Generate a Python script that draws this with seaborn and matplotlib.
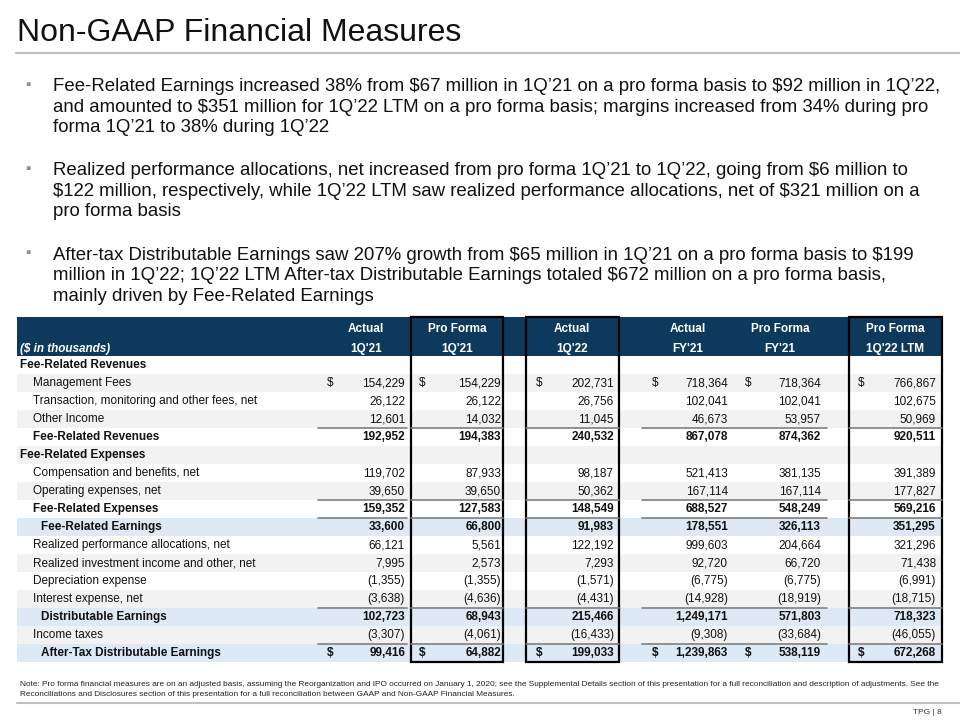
import matplotlib
matplotlib.use("Agg")
import matplotlib.pyplot as plt
import seaborn as sns

# Data
row_labels = ["Fee-Related Revenues", "Management Fees",
              "Transaction, monitoring and other fees, net", "Other Income",
              "Fee-Related Revenues", "Fee-Related Expenses",
              "Compensation and benefits, net", "Operating expenses, net",
              "Fee-Related Expenses", "Fee-Related Earnings",
              "Realized performance allocations, net",
              "Realized investment income and other, net",
              "Depreciation expense", "Interest expense, net",
              "Distributable Earnings", "Income taxes",
              "After-Tax Distributable Earnings"]
row_kind = ["section", "item", "item", "item", "sub", "section", "item", "item",
            "sub", "total", "item", "item", "item", "item", "total", "item", "total"]
dollar_rows = [1, 16]

col_top = ["Actual", "Pro Forma", "Actual", "Actual", "Pro Forma", "Pro Forma"]
col_bottom = ["1Q'21", "1Q'21", "1Q'22", "FY'21", "FY'21", "1Q'22 LTM"]

actual_1q21 = [None, 154229, 26122, 12601, 192952, None, 119702, 39650, 159352,
               33600, 66121, 7995, -1355, -3638, 102723, -3307, 99416]
proforma_1q21 = [None, 154229, 26122, 14032, 194383, None, 87933, 39650, 127583,
                 66800, 5561, 2573, -1355, -4636, 68943, -4061, 64882]
actual_1q22 = [None, 202731, 26756, 11045, 240532, None, 98187, 50362, 148549,
               91983, 122192, 7293, -1571, -4431, 215466, -16433, 199033]
actual_fy21 = [None, 718364, 102041, 46673, 867078, None, 521413, 167114, 688527,
               178551, 999603, 92720, -6775, -14928, 1249171, -9308, 1239863]
proforma_fy21 = [None, 718364, 102041, 53957, 874362, None, 381135, 167114, 548249,
                 326113, 204664, 66720, -6775, -18919, 571803, -33684, 538119]
proforma_ltm = [None, 766867, 102675, 50969, 920511, None, 391389, 177827, 569216,
                351295, 321296, 71438, -6991, -18715, 718323, -46055, 672268]
columns = [actual_1q21, proforma_1q21, actual_1q22, actual_fy21, proforma_fy21, proforma_ltm]

title = "Non-GAAP Financial Measures"
bullets = [
    ["Fee-Related Earnings increased 38% from $67 million in 1Q\u201921 on a pro forma basis to $92 million in 1Q\u201922,",
     "and amounted to $351 million for 1Q\u201922 LTM on a pro forma basis; margins increased from 34% during pro",
     "forma 1Q\u201921 to 38% during 1Q\u201922"],
    ["Realized performance allocations, net increased from pro forma 1Q\u201921 to 1Q\u201922, going from $6 million to",
     "$122 million, respectively, while 1Q\u201922 LTM saw realized performance allocations, net of $321 million on a",
     "pro forma basis"],
    ["After-tax Distributable Earnings saw 207% growth from $65 million in 1Q\u201921 on a pro forma basis to $199",
     "million in 1Q\u201922; 1Q\u201922 LTM After-tax Distributable Earnings totaled $672 million on a pro forma basis,",
     "mainly driven by Fee-Related Earnings"],
]
note = ["Note: Pro forma financial measures are on an adjusted basis, assuming the Reorganization and IPO occurred on January 1, 2020; see the Supplemental Details section of this presentation for a full reconciliation and description of adjustments. See the",
        "Reconciliations and Disclosures section of this presentation for a full reconciliation between GAAP and Non-GAAP Financial Measures."]

# Style
sns.set_theme(style="white")
plt.rcParams["font.family"] = ["Liberation Sans", "DejaVu Sans"]
plt.rcParams["text.parse_math"] = False

NAVY = "#0d3a5c"
GREY_ROW = "#f2f2f2"
BLUE_ROW = "#dde9f4"
FS = 8.5

fig = plt.figure(figsize=(9.6, 7.2), dpi=100)
ax = fig.add_axes([0, 0, 1, 1])
ax.set_xlim(0, 960)
ax.set_ylim(720, 0)
ax.axis("off")

# title
ax.text(17, 41, title, fontsize=23, color="#111111", va="baseline", ha="left")
ax.plot([16, 960], [53, 53], color="#c0c0c0", lw=1.6)

# bullets
by = [91.3, 175.3, 259.7]
for b, lines in enumerate(bullets):
    ax.text(25, by[b] - 6.5, "\u25aa", fontsize=11, color="#8c8c8c", va="center", ha="left")
    for j, ln in enumerate(lines):
        ax.text(53, by[b] + 20.6 * j, ln, fontsize=13.4, color="#111111", va="baseline", ha="left")

# table geometry
x0, x1 = 17, 942
row_y0 = 365
row_h = 18
num_right = [405, 501, 614, 728, 821, 936]
dollar_x = [327, 419, 536, 652, 745, 858]
head_cx = [366, 457, 572, 688, 780, 895]
boxes = [(411, 503), (526, 619), (849, 942)]
spans = [(318, 407), (411, 503), (526, 619), (642, 827), (849, 942)]

# header band
ax.add_patch(plt.Rectangle((x0, 317), x1 - x0, 40, color=NAVY, lw=0))
for k in range(6):
    ax.text(head_cx[k], 329, col_top[k], color="white", fontsize=FS, fontweight="bold", ha="center", va="center")
    ax.text(head_cx[k], 349, col_bottom[k], color="white", fontsize=FS, fontweight="bold", ha="center", va="center")
ax.text(20, 349, "($ in thousands)", color="white", fontsize=FS, fontweight="bold",
        fontstyle="italic", ha="left", va="center")

def fmt(v):
    s = f"{abs(v):,}"
    return f"({s})" if v < 0 else s

for i, lab in enumerate(row_labels):
    yc = row_y0 + row_h * i
    kind = row_kind[i]
    if kind == "total":
        bg = BLUE_ROW
    elif i % 2 == 1:
        bg = GREY_ROW
    else:
        bg = "white"
    ax.add_patch(plt.Rectangle((x0, yc - row_h / 2), x1 - x0, row_h, color=bg, lw=0))
    lx = {"section": 20, "item": 33, "sub": 33, "total": 41}[kind]
    bold = kind != "item"
    ax.text(lx, yc, lab, fontsize=FS, fontweight="bold" if bold else "normal",
            color="#111111", ha="left", va="center")
    for k, col in enumerate(columns):
        v = col[i]
        if v is None:
            continue
        ax.text(num_right[k], yc, fmt(v), fontsize=FS, fontweight="bold" if bold else "normal",
                color="#111111", ha="right", va="center")
        if i in dollar_rows:
            ax.text(dollar_x[k], yc, "$", fontsize=FS, fontweight="bold" if bold else "normal",
                    color="#111111", ha="left", va="center")

# underlines above subtotals
for r in [3, 7, 8, 13, 15]:
    yl = row_y0 + row_h * r + row_h / 2
    for a, b in spans:
        ax.plot([a, b], [yl, yl], color="#7f7f7f", lw=1.2)

# boxed columns
table_bottom = row_y0 + row_h * (len(row_labels) - 1) + row_h / 2
for a, b in boxes:
    ax.add_patch(plt.Rectangle((a, 317), b - a, table_bottom - 317, fill=False,
                               edgecolor="black", lw=1.6))

# note and footer
for j, ln in enumerate(note):
    ax.text(20, 684 + 11 * j, ln, fontsize=5.95, color="#222222", ha="left", va="center")
ax.plot([17, 960], [703, 703], color="#c0c0c0", lw=1.5)
ax.text(942, 713, "TPG | 8", fontsize=6, color="#333333", ha="right", va="center")

fig.savefig("out.png", dpi=100)
